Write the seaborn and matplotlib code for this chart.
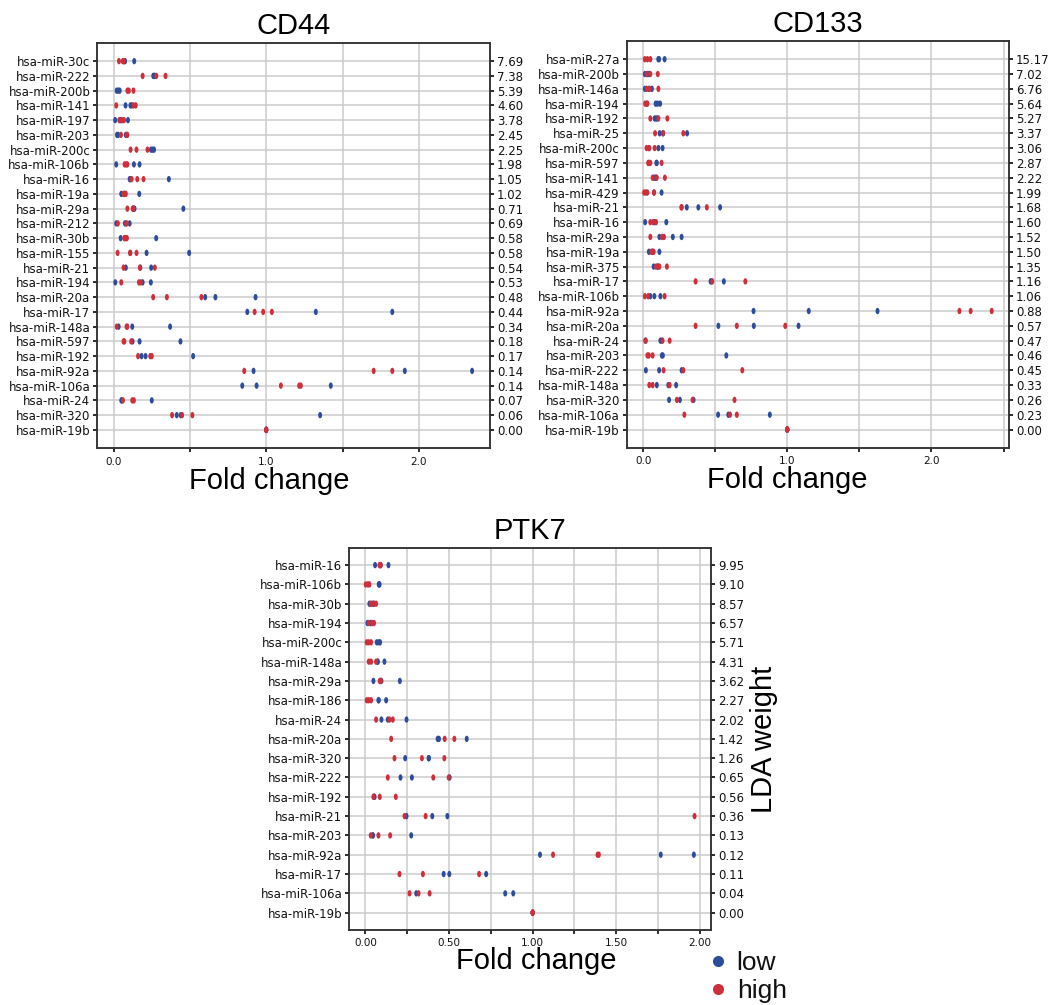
import numpy as np
import pandas as pd
import matplotlib
matplotlib.use("Agg")
import matplotlib.pyplot as plt
import matplotlib.path as mpath
from matplotlib.lines import Line2D
import seaborn as sns

# ---------------- data ----------------
groups = ["low", "high"]
colors = {"low": "#2c4d9c", "high": "#cf2f3a"}

cd44_mirnas = ["hsa-miR-30c", "hsa-miR-222", "hsa-miR-200b", "hsa-miR-141", "hsa-miR-197",
               "hsa-miR-203", "hsa-miR-200c", "hsa-miR-106b", "hsa-miR-16", "hsa-miR-19a",
               "hsa-miR-29a", "hsa-miR-212", "hsa-miR-30b", "hsa-miR-155", "hsa-miR-21",
               "hsa-miR-194", "hsa-miR-20a", "hsa-miR-17", "hsa-miR-148a", "hsa-miR-597",
               "hsa-miR-192", "hsa-miR-92a", "hsa-miR-106a", "hsa-miR-24", "hsa-miR-320",
               "hsa-miR-19b"]
cd44_weights = [7.69, 7.38, 5.39, 4.60, 3.78, 2.45, 2.25, 1.98, 1.05, 1.02, 0.71, 0.69, 0.58,
                0.58, 0.54, 0.53, 0.48, 0.44, 0.34, 0.18, 0.17, 0.14, 0.14, 0.07, 0.06, 0.00]
cd44_low = [[0.07, 0.075, 0.135], [0.26, 0.265, 0.27], [0.02, 0.03, 0.04], [0.078, 0.11, 0.12],
            [0.01, 0.045, 0.094], [0.022, 0.03, 0.08], [0.245, 0.255, 0.265], [0.017, 0.133, 0.17],
            [0.105, 0.11, 0.362], [0.05, 0.07, 0.168], [0.13, 0.137, 0.457], [0.017, 0.074, 0.105],
            [0.046, 0.075, 0.279], [0.11, 0.216, 0.495], [0.08, 0.175, 0.246], [0.011, 0.19, 0.244],
            [0.6, 0.667, 0.93], [0.876, 1.325, 1.826], [0.033, 0.122, 0.37], [0.124, 0.17, 0.438],
            [0.183, 0.209, 0.521], [0.917, 1.908, 2.349], [0.843, 0.937, 1.423], [0.05, 0.055, 0.25],
            [0.414, 0.44, 1.353], [1.0, 1.0, 1.0]]
cd44_high = [[0.035, 0.06, 0.065], [0.19, 0.28, 0.34], [0.09, 0.1, 0.13], [0.017, 0.13, 0.145],
             [0.037, 0.055, 0.068], [0.048, 0.085, 0.09], [0.111, 0.15, 0.222], [0.072, 0.082, 0.09],
             [0.118, 0.155, 0.196], [0.065, 0.075, 0.08], [0.09, 0.125, 0.128], [0.028, 0.083, 0.085],
             [0.07, 0.08, 0.087], [0.026, 0.107, 0.15], [0.065, 0.172, 0.27], [0.05, 0.166, 0.178],
             [0.259, 0.349, 0.575], [0.924, 0.98, 1.037], [0.02, 0.085, 0.09], [0.065, 0.07, 0.115],
             [0.16, 0.24, 0.25], [0.856, 1.704, 1.826], [1.096, 1.216, 1.227], [0.061, 0.122, 0.133],
             [0.383, 0.449, 0.516], [1.0, 1.0, 1.0]]

cd133_mirnas = ["hsa-miR-27a", "hsa-miR-200b", "hsa-miR-146a", "hsa-miR-194", "hsa-miR-192",
                "hsa-miR-25", "hsa-miR-200c", "hsa-miR-597", "hsa-miR-141", "hsa-miR-429",
                "hsa-miR-21", "hsa-miR-16", "hsa-miR-29a", "hsa-miR-19a", "hsa-miR-375",
                "hsa-miR-17", "hsa-miR-106b", "hsa-miR-92a", "hsa-miR-20a", "hsa-miR-24",
                "hsa-miR-203", "hsa-miR-222", "hsa-miR-148a", "hsa-miR-320", "hsa-miR-106a",
                "hsa-miR-19b"]
cd133_weights = [15.17, 7.02, 6.76, 5.64, 5.27, 3.37, 3.06, 2.87, 2.22, 1.99, 1.68, 1.60, 1.52,
                 1.50, 1.35, 1.16, 1.06, 0.88, 0.57, 0.47, 0.46, 0.45, 0.33, 0.26, 0.23, 0.00]
cd133_low = [[0.105, 0.111, 0.149], [0.012, 0.03, 0.04], [0.012, 0.04, 0.061], [0.087, 0.1, 0.118],
             [0.08, 0.09, 0.1], [0.115, 0.14, 0.305], [0.04, 0.106, 0.135], [0.04, 0.092, 0.095],
             [0.075, 0.085, 0.09], [0.02, 0.075, 0.128], [0.303, 0.383, 0.534], [0.014, 0.08, 0.161],
             [0.113, 0.206, 0.267], [0.04, 0.065, 0.113], [0.073, 0.1, 0.105], [0.468, 0.475, 0.56],
             [0.05, 0.078, 0.12], [0.766, 1.149, 1.626], [0.522, 0.768, 1.078], [0.015, 0.12, 0.13],
             [0.13, 0.137, 0.577], [0.019, 0.111, 0.267], [0.095, 0.175, 0.229], [0.18, 0.255, 0.35],
             [0.52, 0.591, 0.879], [1.0, 1.0, 1.0]]
cd133_high = [[0.012, 0.03, 0.05], [0.024, 0.05, 0.102], [0.025, 0.045, 0.106], [0.014, 0.025, 0.03],
              [0.05, 0.106, 0.168], [0.083, 0.137, 0.279], [0.024, 0.043, 0.08], [0.035, 0.05, 0.128],
              [0.066, 0.095, 0.151], [0.007, 0.03, 0.076], [0.265, 0.268, 0.442], [0.05, 0.07, 0.09],
              [0.05, 0.132, 0.145], [0.057, 0.065, 0.073], [0.09, 0.113, 0.165], [0.364, 0.48, 0.709],
              [0.012, 0.035, 0.149], [2.194, 2.272, 2.418], [0.364, 0.65, 0.986], [0.019, 0.135, 0.184],
              [0.03, 0.04, 0.066], [0.142, 0.279, 0.688], [0.043, 0.066, 0.184], [0.234, 0.343, 0.634],
              [0.286, 0.603, 0.65], [1.0, 1.0, 1.0]]

ptk7_mirnas = ["hsa-miR-16", "hsa-miR-106b", "hsa-miR-30b", "hsa-miR-194", "hsa-miR-200c",
               "hsa-miR-148a", "hsa-miR-29a", "hsa-miR-186", "hsa-miR-24", "hsa-miR-20a",
               "hsa-miR-320", "hsa-miR-222", "hsa-miR-192", "hsa-miR-21", "hsa-miR-203",
               "hsa-miR-92a", "hsa-miR-17", "hsa-miR-106a", "hsa-miR-19b"]
ptk7_weights = [9.95, 9.10, 8.57, 6.57, 5.71, 4.31, 3.62, 2.27, 2.02, 1.42, 1.26, 0.65, 0.56,
                0.36, 0.13, 0.12, 0.11, 0.04, 0.00]
ptk7_low = [[0.058, 0.09, 0.138], [0.08, 0.082, 0.085], [0.024, 0.04, 0.05], [0.012, 0.03, 0.04],
            [0.068, 0.08, 0.088], [0.072, 0.075, 0.114], [0.048, 0.096, 0.206], [0.078, 0.08, 0.124],
            [0.096, 0.134, 0.246], [0.432, 0.44, 0.606], [0.238, 0.378, 0.38], [0.21, 0.278, 0.504],
            [0.05, 0.052, 0.055], [0.246, 0.4, 0.49], [0.044, 0.045, 0.274], [1.044, 1.766, 1.964],
            [0.468, 0.502, 0.722], [0.304, 0.836, 0.884], [1.0, 1.0, 1.0]]
ptk7_high = [[0.084, 0.09, 0.092], [0.002, 0.015, 0.024], [0.032, 0.05, 0.064], [0.02, 0.04, 0.052],
             [0.008, 0.02, 0.034], [0.02, 0.034, 0.064], [0.086, 0.09, 0.092], [0.008, 0.02, 0.034],
             [0.064, 0.144, 0.164], [0.154, 0.474, 0.532], [0.174, 0.338, 0.472], [0.134, 0.406, 0.498],
             [0.048, 0.086, 0.182], [0.234, 0.36, 1.968], [0.032, 0.078, 0.148], [1.122, 1.388, 1.396],
             [0.204, 0.344, 0.68], [0.264, 0.318, 0.384], [1.0, 1.0, 1.0]]

ticks_wide = [0.0, 0.5, 1.0, 1.5, 2.0, 2.5]
ticklabels_wide = ["0.0", "", "1.0", "", "2.0", ""]
ticks_ptk7 = [0.0, 0.25, 0.5, 0.75, 1.0, 1.25, 1.5, 1.75, 2.0]
ticklabels_ptk7 = ["0.00", "", "0.50", "", "1.00", "", "1.50", "", "2.00"]

# ---------------- style ----------------
sns.set_theme(style="whitegrid")
plt.rcParams["font.family"] = ["DejaVu Sans"]
plt.rcParams.update({
    "axes.edgecolor": "#333333",
    "axes.linewidth": 1.1,
    "grid.color": "#cccccc",
    "grid.linewidth": 1.1,
    "text.color": "black",
    "axes.labelcolor": "black",
    "axes.titlecolor": "black",
})
BIG = dict(family=["Liberation Sans", "DejaVu Sans"], size=21, color="black")

circ = mpath.Path.unit_circle()
ellipse = mpath.Path(circ.vertices * np.array([0.62, 1.0]), circ.codes)


def long_frame(mirnas, low, high):
    rows = []
    for grp, vals in (("low", low), ("high", high)):
        for m, vs in zip(mirnas, vals):
            for v in vs:
                rows.append({"miRNA": m, "fold": v, "group": grp})
    return pd.DataFrame(rows)


def panel(rect, title, mirnas, weights, low, high, ticks, ticklabels, xlab_x, right_label=None):
    ax = fig.add_axes(rect)
    df = long_frame(mirnas, low, high)
    sns.stripplot(data=df, x="fold", y="miRNA", hue="group", order=mirnas,
                  hue_order=groups, palette=colors, jitter=False, dodge=False,
                  marker=ellipse, size=4.6, linewidth=0, legend=False, ax=ax, zorder=3)
    n = len(mirnas)
    m = 0.05 * (n - 1)
    ax.set_ylim(n - 1 + m, -m)
    x0, x1 = df["fold"].min(), df["fold"].max()
    span = x1 - x0
    ax.set_xticks(ticks)
    ax.set_xticklabels(ticklabels)
    ax.set_xlim(x0 - 0.05 * span, x1 + 0.05 * span)
    ax.grid(True, axis="both")
    ax.set_axisbelow(True)
    ax.tick_params(axis="y", left=True, length=3, pad=2, labelsize=8.5, colors="#111111")
    ax.tick_params(axis="x", bottom=True, length=3, pad=3, labelsize=7.5, colors="#111111")
    ax.set_ylabel("")
    ax.set_xlabel("Fold change", fontdict=BIG, labelpad=2)
    ax.xaxis.set_label_coords(xlab_x, -0.045, transform=ax.transAxes)
    ax.xaxis.label.set_verticalalignment("top")
    ax.set_title(title, fontdict=BIG, pad=6)
    for s in ax.spines.values():
        s.set_visible(True)
        s.set_color("#333333")

    ax2 = ax.twinx()
    ax2.set_ylim(ax.get_ylim())
    ax2.set_yticks(range(n))
    ax2.set_yticklabels([f"{w:.2f}" for w in weights])
    ax2.grid(False)
    ax2.tick_params(axis="y", right=True, length=3, pad=2, labelsize=8.5, colors="#111111")
    for s in ax2.spines.values():
        s.set_color("#333333")
    if right_label:
        ax2.set_ylabel(right_label, fontdict=BIG, labelpad=4)
    return ax


fig = plt.figure(figsize=(10.53, 10.05), dpi=100)

panel([0.0924, 0.5539, 0.3729, 0.4036], "CD44", cd44_mirnas, cd44_weights, cd44_low, cd44_high,
      ticks_wide, ticklabels_wide, 0.437)
panel([0.5952, 0.5542, 0.3631, 0.4053], "CD133", cd133_mirnas, cd133_weights, cd133_low, cd133_high,
      ticks_wide, ticklabels_wide, 0.42)
panel([0.3317, 0.0746, 0.3435, 0.3804], "PTK7", ptk7_mirnas, ptk7_weights, ptk7_low, ptk7_high,
      ticks_ptk7, ticklabels_ptk7, 0.516, right_label="LDA weight")

handles = [Line2D([], [], linestyle="none", marker="o", markersize=8, markeredgewidth=0,
                  markerfacecolor=colors[g]) for g in groups]
fig.legend(handles, groups, loc="center left", bbox_to_anchor=(0.657, 0.028),
           frameon=False, labelcolor="#111111",
           prop=dict(family=["Liberation Sans", "DejaVu Sans"], size=19),
           handletextpad=0.1, labelspacing=0.15, handlelength=1.2, borderaxespad=0)

fig.savefig("out.png", dpi=100)
